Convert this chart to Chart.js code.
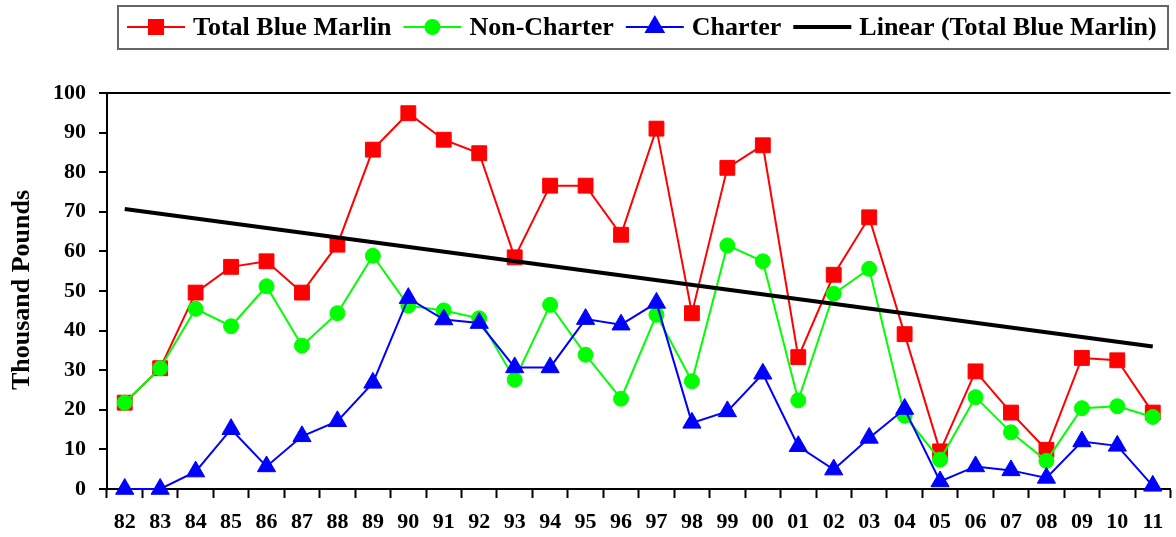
<!DOCTYPE html>
<html>
<head>
<meta charset="utf-8">
<script src="https://cdn.jsdelivr.net/npm/chart.js@4/dist/chart.umd.min.js"></script>
<style>
  html, body { margin: 0; padding: 0; background: #fff; overflow: hidden; }
  #wrap { width: 1176px; height: 537px; overflow: hidden; position: relative; }
</style>
</head>
<body>
<div id="wrap">
  <canvas id="chart" width="1182" height="537" style="position:absolute;left:0;top:0;width:1182px;height:537px;"></canvas>
</div>
<script>
// Blue marlin landings, thousand pounds
const years = ["82", "83", "84", "85", "86", "87", "88", "89", "90", "91", "92", "93", "94", "95", "96",
               "97", "98", "99", "00", "01", "02", "03", "04", "05", "06", "07", "08", "09", "10", "11"];
const totalBlueMarlin = [21.8, 30.5, 49.6, 56.1, 57.5, 49.6, 61.7, 85.7, 94.9, 88.2, 84.8, 58.5, 76.6, 76.6, 64.2,
                         91.0, 44.4, 81.1, 86.8, 33.3, 54.1, 68.6, 39.1, 9.5, 29.7, 19.3, 9.9, 33.1, 32.5, 19.3];
const nonCharter = [21.8, 30.5, 45.5, 41.1, 51.2, 36.2, 44.4, 58.9, 46.3, 45.1, 43.1, 27.6, 46.5, 33.9, 22.8,
                    44.0, 27.2, 61.5, 57.5, 22.4, 49.3, 55.6, 18.5, 7.4, 23.2, 14.3, 7.1, 20.4, 20.9, 18.2];
const charter = [0, 0, 4.4, 15.1, 5.7, 13.3, 17.1, 26.8, 48.2, 42.8, 41.9, 30.7, 30.7, 42.9, 41.5,
                 47.0, 16.7, 19.6, 29.1, 10.8, 4.9, 12.9, 20.2, 1.9, 5.7, 4.7, 2.8, 12.0, 10.9, 0.8];
// trend line (Excel linear fit) read at first and last year
const trendEnds = [70.7, 36.0];

const FONT = "'Liberation Serif', 'Times New Roman', serif";

const legendItems = [
    { text: "Total Blue Marlin", color: "#ff0000", style: "rect", radius: 10, line: 2 },
    { text: "Non-Charter", color: "#00ff00", style: "circle", radius: 7, line: 2 },
    { text: "Charter", color: "#0000ff", style: "triangle", radius: 10, line: 2 },
    { text: "Linear (Total Blue Marlin)", color: "#000000", style: false, radius: 0, line: 4 }
];

// boxed legend at the top, plus the rotated axis title
const extras = {
    id: "extras",
    afterDraw(chart) {
        const ctx = chart.ctx;
        ctx.save();
        ctx.strokeStyle = "#666";
        ctx.lineWidth = 2;
        ctx.strokeRect(118, 6, 1050, 43);

        ctx.font = "bold 26px " + FONT;
        ctx.textBaseline = "middle";
        let x = 127;
        const y = 27;
        legendItems.forEach(item => {
            ctx.strokeStyle = item.color;
            ctx.fillStyle = item.color;
            ctx.lineWidth = item.line;
            ctx.beginPath();
            ctx.moveTo(x, y);
            ctx.lineTo(x + 58, y);
            ctx.stroke();
            if (item.style) {
                Chart.helpers.drawPoint(ctx, { pointStyle: item.style, radius: item.radius, rotation: 0, borderWidth: 1 }, x + 29, y);
            }
            x += 66;
            ctx.fillStyle = "#000";
            ctx.fillText(item.text, x, y + 1);
            x += ctx.measureText(item.text).width + 12;
        });

        ctx.translate(22, 290);
        ctx.rotate(-Math.PI / 2);
        ctx.font = "bold 26px " + FONT;
        ctx.textAlign = "center";
        ctx.fillStyle = "#000";
        ctx.fillText("Thousand Pounds", 0, 0);
        ctx.restore();
    }
};

const ctx = document.getElementById("chart").getContext("2d");
const marlinChart = new Chart(ctx, {
    type: "line",
    data: {
        labels: years,
        datasets: [
            {
                label: "Total Blue Marlin",
                data: totalBlueMarlin,
                borderColor: "#ff0000",
                backgroundColor: "#ff0000",
                borderWidth: 2,
                pointStyle: "rect",
                pointRadius: 10.5,
                pointBorderWidth: 1,
                order: 4,
                clip: false
            },
            {
                label: "Non-Charter",
                data: nonCharter,
                borderColor: "#00ff00",
                backgroundColor: "#00ff00",
                borderWidth: 2,
                pointStyle: "circle",
                pointRadius: 7.5,
                pointBorderWidth: 1,
                order: 3,
                clip: false
            },
            {
                label: "Charter",
                data: charter,
                borderColor: "#0000ff",
                backgroundColor: "#0000ff",
                borderWidth: 2,
                pointStyle: "triangle",
                pointRadius: 10.5,
                pointBorderWidth: 1,
                order: 2,
                clip: false
            },
            {
                label: "Linear (Total Blue Marlin)",
                data: [
                    { x: years[0], y: trendEnds[0] },
                    { x: years[years.length - 1], y: trendEnds[1] }
                ],
                borderColor: "#000000",
                borderWidth: 4,
                pointRadius: 0,
                order: 1,
                clip: false
            }
        ]
    },
    options: {
        responsive: false,
        animation: false,
        devicePixelRatio: 1,
        layout: { padding: { top: 93, left: 0, right: 0, bottom: 0 } },
        plugins: {
            legend: { display: false },
            tooltip: { enabled: false }
        },
        scales: {
            x: {
                offset: true,
                afterFit(scale) { scale.height = 48; },
                border: { color: "#000", width: 2 },
                grid: {
                    offset: true,
                    drawOnChartArea: false,
                    tickColor: "#000",
                    tickLength: 9,
                    tickWidth: 2
                },
                ticks: {
                    color: "#000",
                    padding: 11,
                    maxRotation: 0,
                    autoSkip: false,
                    font: { family: FONT, size: 22, weight: "bold" }
                }
            },
            y: {
                min: 0,
                max: 100,
                afterFit(scale) { scale.width = 107; },
                border: { color: "#000", width: 2 },
                grid: {
                    color: c => (c.tick && c.tick.value === 100 ? "#000" : "rgba(0,0,0,0)"),
                    lineWidth: 2,
                    tickColor: "#000",
                    tickLength: 8,
                    tickWidth: 2
                },
                ticks: {
                    stepSize: 10,
                    color: "#000",
                    padding: 13,
                    font: { family: FONT, size: 22, weight: "bold" }
                }
            }
        }
    },
    plugins: [extras]
});
</script>
</body>
</html>
